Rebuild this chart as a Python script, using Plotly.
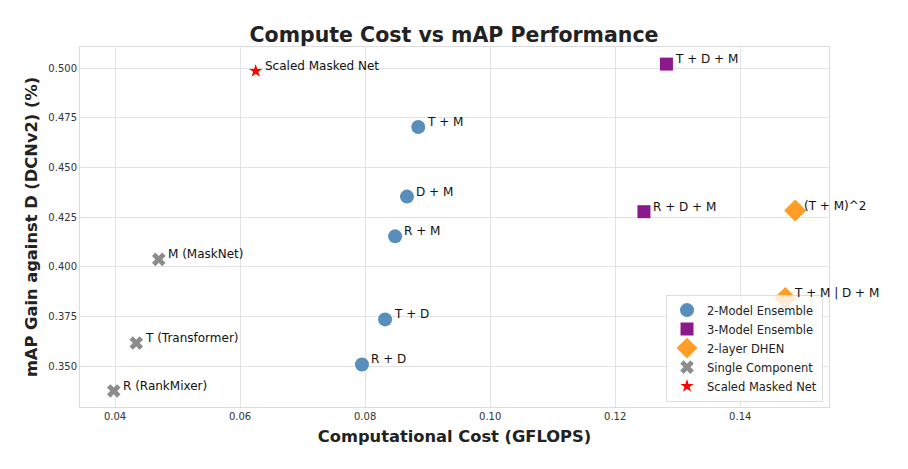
import plotly.graph_objects as go

# Data
two_names = ["T + M", "D + M", "R + M", "T + D", "R + D"]
two_x = [0.0885, 0.0867, 0.0848, 0.0832, 0.0795]
two_y = [0.4703, 0.4353, 0.4153, 0.3735, 0.3508]

three_names = ["T + D + M", "R + D + M"]
three_x = [0.1282, 0.1246]
three_y = [0.5020, 0.4277]

dhen_names = ["(T + M)^2", "T + M | D + M"]
dhen_x = [0.1488, 0.1472]
dhen_y = [0.4283, 0.3843]

single_names = ["M (MaskNet)", "T (Transformer)", "R (RankMixer)"]
single_x = [0.0470, 0.0434, 0.0398]
single_y = [0.4037, 0.3616, 0.3375]

smn_names = ["Scaled Masked Net"]
smn_x = [0.0625]
smn_y = [0.4985]

FONT = "DejaVu Sans"

fig = go.Figure()

groups = [
    ("2-Model Ensemble", two_names, two_x, two_y, "circle", 14, "rgba(70,130,180,0.9)"),
    ("3-Model Ensemble", three_names, three_x, three_y, "square", 13, "rgba(128,0,128,0.9)"),
    ("2-layer DHEN", dhen_names, dhen_x, dhen_y, "diamond", 17, "rgba(255,140,0,0.85)"),
    ("Single Component", single_names, single_x, single_y, "x", 12, "rgba(128,128,128,0.9)"),
    ("Scaled Masked Net", smn_names, smn_x, smn_y, "star", 10, "rgba(255,0,0,1)"),
]

for name, labels, xs, ys, sym, size, color in groups:
    fig.add_trace(go.Scatter(
        x=xs, y=ys, mode="markers", name=name,
        marker=dict(symbol=sym, size=size, color=color, line=dict(width=0)),
    ))
    for lab, xv, yv in zip(labels, xs, ys):
        fig.add_annotation(
            x=xv, y=yv, text=lab, showarrow=False,
            xanchor="left", yanchor="middle", xshift=7, yshift=5,
            font=dict(family=FONT, size=12, color="#111111"),
        )

fig.update_layout(
    width=908, height=469,
    margin=dict(l=80, r=79, t=47, b=62),
    paper_bgcolor="white", plot_bgcolor="white",
    font=dict(family=FONT, color="#222222"),
    title=dict(text="<b>Compute Cost vs mAP Performance</b>", x=0.5, xanchor="center",
               y=0.925, yanchor="middle", font=dict(family=FONT, size=20.5, color="#222222")),
    legend=dict(
        x=0.992, y=0.015, xanchor="right", yanchor="bottom",
        bgcolor="rgba(255,255,255,0.8)", bordercolor="#dddddd", borderwidth=1,
        font=dict(family=FONT, size=11.5, color="#222222"),
        tracegroupgap=0, itemsizing="trace",
    ),
    showlegend=True,
)

fig.update_xaxes(
    range=[0.0344, 0.1542],
    tickvals=[0.04, 0.06, 0.08, 0.10, 0.12, 0.14],
    ticktext=["0.04", "0.06", "0.08", "0.10", "0.12", "0.14"],
    showgrid=True, gridcolor="#e3e3e3", gridwidth=1,
    zeroline=False, showline=True, linecolor="#dcdcdc", mirror=True,
    ticks="", tickfont=dict(family=FONT, size=10, color="#333333"),
    title=dict(text="<b>Computational Cost (GFLOPS)</b>", font=dict(family=FONT, size=16.3, color="#222222"), standoff=9),
)
fig.update_yaxes(
    range=[0.3294, 0.5106],
    tickvals=[0.35, 0.375, 0.40, 0.425, 0.45, 0.475, 0.50],
    ticktext=["0.350", "0.375", "0.400", "0.425", "0.450", "0.475", "0.500"],
    showgrid=True, gridcolor="#e3e3e3", gridwidth=1,
    zeroline=False, showline=True, linecolor="#dcdcdc", mirror=True,
    ticks="", tickfont=dict(family=FONT, size=10, color="#333333"),
    title=dict(text="<b>mAP Gain against D (DCNv2) (%)</b>", font=dict(family=FONT, size=16.3, color="#222222"), standoff=6),
)

fig.write_html("out.html")
